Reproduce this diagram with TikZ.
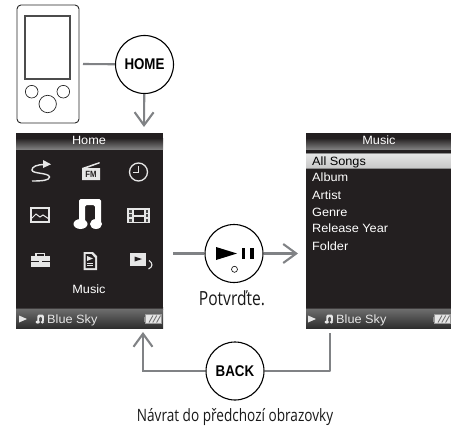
\documentclass[tikz,border=0pt]{standalone}
\usepackage{fontspec}
\setmainfont{Liberation Sans}
\newfontfamily\scrfont[FakeStretch=1.06]{Liberation Sans}
\newfontfamily\btnfont[FakeStretch=0.86]{Liberation Sans}
\newfontfamily\capfont[FakeStretch=0.8]{Open Sans}
\usetikzlibrary{arrows.meta,shadings}
\definecolor{scrbg}{HTML}{231F20}
\definecolor{wire}{HTML}{808285}
\definecolor{ico}{HTML}{E6E6E6}
\tikzset{
 x=1pt,y=-1pt,
 wire/.style={draw=wire,line width=2.1pt},
 arr/.style={wire,-{Straight Barb[length=13pt,width=19pt,line width=2.1pt]}},
 roundbtn/.style={circle,draw=black,line width=1.1pt,fill=white,minimum size=58pt,inner sep=0pt},
 btntext/.style={font=\btnfont\bfseries\fontsize{15.5}{16}\selectfont},
 scrbox/.style={rectangle,fill=scrbg,draw=none,inner sep=0pt},
 scrlabel/.style={text=white,font=\scrfont\fontsize{12}{13}\selectfont,inner sep=0pt,anchor=base west},
 captext/.style={text=black!90,inner sep=0pt},
 ic/.style={fill=ico,draw=none},
 icl/.style={draw=ico,line width=1.3pt,fill=none},
 note/.pic={
  \fill[pic actions,rounded corners=1.5pt] (-9,-13) -- (13,-13) -- (13,12) -- (7,12) -- (7,-7) -- (-3,-7) -- (-3,12) -- (-9,12) -- cycle;
  \fill[pic actions] (-7.5,12) ellipse [x radius=7,y radius=5];
  \fill[pic actions] (8,12) ellipse [x radius=6,y radius=5];
 }
}
\begin{document}
\begin{tikzpicture}
\useasboundingbox (0,0) rectangle (451,431);
% device
\node[rectangle,draw=black!85,line width=0.9pt,rounded corners=4pt,minimum width=62pt,minimum height=118pt,inner sep=0pt] (dev) at (48,64) {};
\node[rectangle,draw=black!70,line width=1.6pt,fill=white,minimum width=45pt,minimum height=63pt,inner sep=0pt] (devs) at (47.5,47.5) {};
\draw[black!85,line width=0.7pt] (31.7,91.7) circle[radius=6.3];
\draw[black!85,line width=0.7pt] (63.3,91.7) circle[radius=6.3];
\draw[black!85,line width=0.7pt] (47.7,104) circle[radius=8.7];
% connector coordinates
\coordinate (hs) at (83,64);
\coordinate (arrh) at (144,127);
\coordinate (ps) at (173,253.5);
\coordinate (pe) at (298,253.5);
\coordinate (bl) at (143,371);
\coordinate (bla) at (143,332);
\coordinate (br) at (330,371);
\coordinate (brt) at (330,333);
% screens
\node[scrbox,minimum width=147pt,minimum height=195pt] (home) at (89.5,230.5) {};
\node[scrbox,minimum width=145pt,minimum height=195pt] (music) at (378.5,230.5) {};
\foreach \xa/\xb in {16/163,306/451}{
 \shade[top color=scrbg,bottom color=black!50] (\xa,138) rectangle (\xb,149.3);
 \shade[top color=scrbg,bottom color=black!58] (\xa,307) rectangle (\xb,309.5);
 \shade[top color=black!58,bottom color=black!82] (\xa,309.5) rectangle (\xb,328);
}
% titles
\node[text=white,font=\scrfont\fontsize{12}{13}\selectfont,inner sep=0pt] (thome) at (89,140.5) {Home};
\node[text=white,font=\scrfont\fontsize{12}{13}\selectfont,inner sep=0pt] (tmusic) at (379,140.5) {Music};
% Home icons
% repeat
\draw[icl,line width=1.4pt] (45,164.5) .. controls (37,164.5) and (32,166.5) .. (32,170) .. controls (32,174) and (49,172.5) .. (49.5,177) .. controls (49.5,180.5) and (42,181) .. (32,181);
\fill[ico] (43,160) -- (51,164.3) -- (43,168) -- cycle;
% FM
\fill[ic] (82,168) -- (99.5,162) -- (99.5,163.5) -- (87,168) -- (100,168) -- (100,180) -- (82,180) -- cycle;
\node[text=scrbg,font=\btnfont\bfseries\fontsize{9}{9}\selectfont,inner sep=0pt] (fm) at (91,174.5) {FM};
% clock
\draw[icl] (138.5,172) circle[radius=9];
\draw[icl,line width=1.2pt] (138.5,166) -- (138.5,172.5) -- (133,172.5);
% photo
\draw[icl,line width=1.1pt] (31,208) rectangle (49,222);
\draw[ico,line width=1pt] (31,219) -- (36,214) -- (40,217) -- (43,215) -- (49,219);
% big note
\pic[fill=white] at (88,212) {note};
% film
\fill[ic] (127,208) rectangle (150,223);
\fill[scrbg] (133.5,209.5) rectangle (143.5,214.5);
\fill[scrbg] (133.5,216.5) rectangle (143.5,221.5);
\foreach \yy in {209.5,214,218.5}{
 \fill[black!70] (129,\yy) rectangle (131.5,\yy+3);
 \fill[black!70] (145.5,\yy) rectangle (148,\yy+3);
}
% toolbox
\fill[ic] (31,256) rectangle (49.5,267);
\draw[ico,line width=1.1pt] (36,256) -- (36,253.5) -- (44.5,253.5) -- (44.5,256);
\draw[scrbg,line width=0.8pt] (31,261) -- (49.5,261);
\fill[ic] (39,260) rectangle (41.5,262.5);
% document
\fill[ic] (83.5,252) -- (93,252) -- (97,256) -- (97,270) -- (83.5,270) -- cycle;
\fill[scrbg] (85.5,254) -- (91.5,254) -- (95,258) -- (95,268) -- (85.5,268) -- cycle;
\fill[ic] (87,256) -- (93,258.5) -- (87,261) -- cycle;
\draw[ico,line width=0.8pt] (87,263) -- (93,263) (87,265.5) -- (93,265.5);
% video
\fill[ic] (130,252.5) rectangle (146,265.5);
\fill[scrbg] (134.5,256.5) -- (142,259) -- (134.5,261.5) -- cycle;
\draw[ico,line width=1.1pt] (149,260.5) .. controls (153,263) and (153,267) .. (148.5,269);
% selected label
\node[text=white,font=\scrfont\fontsize{12}{13}\selectfont,inner sep=0pt] (lmusic) at (89,289) {Music};
% status bars
\foreach \xo/\sfx in {0/a,289/b}{
 \fill[ico] (19+\xo,315.5) -- (27+\xo,319) -- (19+\xo,322.5) -- cycle;
 \pic[fill=ico,scale=0.3] at (40+\xo,318.5) {note};
 \node[text=ico,font=\scrfont\fontsize{12}{13}\selectfont,inner sep=0pt,anchor=base west] (sky\sfx) at (47+\xo,323.5) {Blue Sky};
 \fill[black!45] (144+\xo,316.5) rectangle (146+\xo,321.5);
 \fill[ico,draw=black!40,line width=0.7pt] (145.5+\xo,314.5) rectangle (161.5+\xo,323.5);
 \foreach \k in {0,1,2}{\draw[black!55,line width=0.9pt] (149+\k*3.8+\xo,322.5) -- (153+\k*3.8+\xo,315.5);}
}
% Music list
\shade[top color=black!10,bottom color=black!22] (306,153) rectangle (451,168.5);
\draw[black!45,line width=0.6pt] (306,153.2) -- (451,153.2) (306,168.5) -- (451,168.5);
\node[scrlabel,text=black] (m1) at (312,165) {All Songs};
\node[scrlabel] (m2) at (312,182) {Album};
\node[scrlabel] (m3) at (312,199) {Artist};
\node[scrlabel] (m4) at (312,216) {Genre};
\node[scrlabel] (m5) at (312,233) {Release Year};
\node[scrlabel] (m6) at (312,250) {Folder};
% buttons
\node[roundbtn] (hb) at (144.5,64.5) {};
\node[btntext,inner sep=0pt] (hbt) at (144.5,64.5) {HOME};
\node[roundbtn] (pb) at (234,253.5) {};
\node[roundbtn] (bb) at (235,371) {};
\node[btntext,inner sep=0pt] (bbt) at (235,371) {BACK};
\fill[black] (216,247) -- (237,253.5) -- (216,260) -- cycle;
\fill[black] (241.7,248) rectangle (245.3,259);
\fill[black] (250,248) rectangle (254,259);
\draw[black,line width=0.6pt] (234.5,269.3) circle[radius=3];
% connectors
\draw[wire] (hs) -- (hb);
\draw[arr] (hb) -- (arrh);
\draw[wire] (ps) -- (pb);
\draw[arr] (pb) -- (pe);
\draw[arr] (bb) -- (bl) -- (bla);
\draw[wire,line join=round] (bb) -- (br) -- (brt);
% captions
\node[captext,font=\capfont\fontsize{19.5}{21}\selectfont] (c1) at (232,298) {Potvrďte.};
\node[captext,font=\capfont\fontsize{17}{19}\selectfont] (c2) at (235,417) {Návrat do předchozí obrazovky};
\end{tikzpicture}
\end{document}
